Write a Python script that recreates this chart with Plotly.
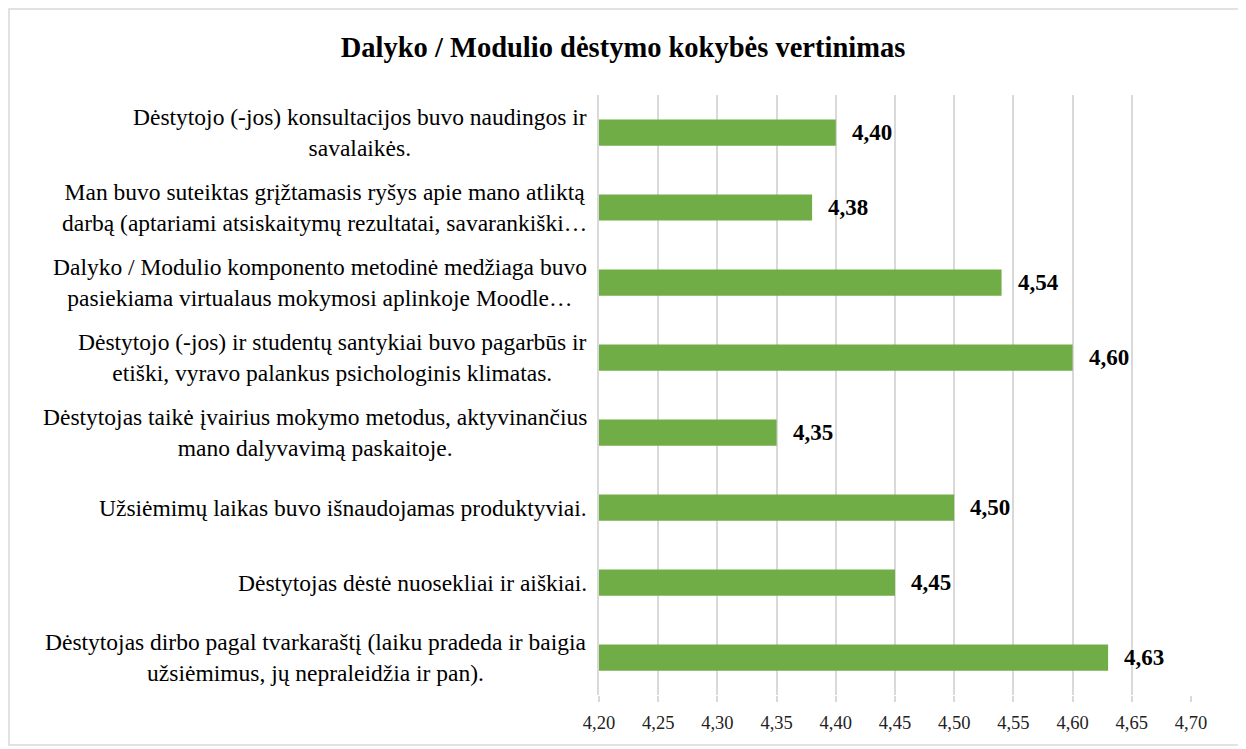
import plotly.graph_objects as go

categories = [
    "Dėstytojo (-jos) konsultacijos buvo naudingos ir<br>savalaikės.",
    "Man buvo suteiktas grįžtamasis ryšys apie mano atliktą<br>darbą (aptariami atsiskaitymų rezultatai, savarankiški…",
    "Dalyko / Modulio komponento metodinė medžiaga buvo<br>pasiekiama virtualaus mokymosi aplinkoje Moodle…",
    "Dėstytojo (-jos) ir studentų santykiai buvo pagarbūs ir<br>etiški, vyravo palankus psichologinis klimatas.",
    "Dėstytojas taikė įvairius mokymo metodus, aktyvinančius<br>mano dalyvavimą paskaitoje.",
    "Užsiėmimų laikas buvo išnaudojamas produktyviai.",
    "Dėstytojas dėstė nuosekliai ir aiškiai.",
    "Dėstytojas dirbo pagal tvarkaraštį (laiku pradeda ir baigia<br>užsiėmimus, jų nepraleidžia ir pan).",
]
values = [4.40, 4.38, 4.54, 4.60, 4.35, 4.50, 4.45, 4.63]
value_labels = ["4,40", "4,38", "4,54", "4,60", "4,35", "4,50", "4,45", "4,63"]
tick_values = [4.20, 4.25, 4.30, 4.35, 4.40, 4.45, 4.50, 4.55, 4.60, 4.65, 4.70]
tick_labels = ["4,20", "4,25", "4,30", "4,35", "4,40", "4,45", "4,50", "4,55", "4,60", "4,65", "4,70"]
title = "Dalyko / Modulio dėstymo kokybės vertinimas"

FONT = "Times New Roman, Liberation Serif, Times, serif"
ids = list(range(len(categories)))

W, H = 1238, 741
L, T = 591, 87
PW, PH = 592, 600

fig = go.Figure()
fig.add_trace(go.Bar(
    y=ids, x=[v - 4.20 for v in values], base=4.20, orientation="h",
    marker=dict(color="#70AD47", line=dict(width=0)),
    hoverinfo="skip",
))

annotations = []
for i, (c, v, lab) in enumerate(zip(categories, values, value_labels)):
    annotations.append(dict(
        x=0, xref="paper", y=i, yref="y", text=c, showarrow=False,
        xanchor="right", yanchor="middle", align="center", xshift=-10,
        font=dict(family=FONT, size=23.5, color="#000000"),
    ))
    annotations.append(dict(
        x=v, xref="x", y=i, yref="y", text="<b>" + lab + "</b>", showarrow=False,
        xanchor="left", yanchor="middle", xshift=14,
        font=dict(family=FONT, size=23, color="#000000"),
    ))

fig.update_layout(
    width=W, height=H,
    margin=dict(l=L, r=W - L - PW, t=T, b=H - T - PH),
    paper_bgcolor="white", plot_bgcolor="white",
    showlegend=False,
    bargap=0.65,
    title=dict(text="<b>" + title + "</b>", x=615 / W, xref="container", xanchor="center",
               y=1 - 39 / H, yref="container", yanchor="middle",
               font=dict(family=FONT, size=28.5, color="#000000")),
    xaxis=dict(range=[4.20, 4.70], tickvals=tick_values, ticktext=tick_labels,
               showgrid=True, gridcolor="#D9D9D9", gridwidth=1.5,
               zeroline=False, showline=False,
               ticks="outside", ticklen=6, tickcolor="#D9D9D9", tickwidth=1.5,
               ticklabelstandoff=5,
               tickfont=dict(family=FONT, size=18.5, color="#222222")),
    yaxis=dict(tickvals=ids, showticklabels=False, autorange="reversed",
               showgrid=False, zeroline=False,
               showline=True, linecolor="#D9D9D9", linewidth=1.5),
    annotations=annotations,
    shapes=[dict(type="rect", xref="paper", yref="paper",
                 x0=(1 - L) / PW, x1=(1232 - L) / PW,
                 y0=(T + PH - 737) / PH, y1=(T + PH - 1) / PH,
                 line=dict(color="#D9D9D9", width=1.5), fillcolor="rgba(0,0,0,0)",
                 layer="below")],
)
fig.write_html("out.html")
